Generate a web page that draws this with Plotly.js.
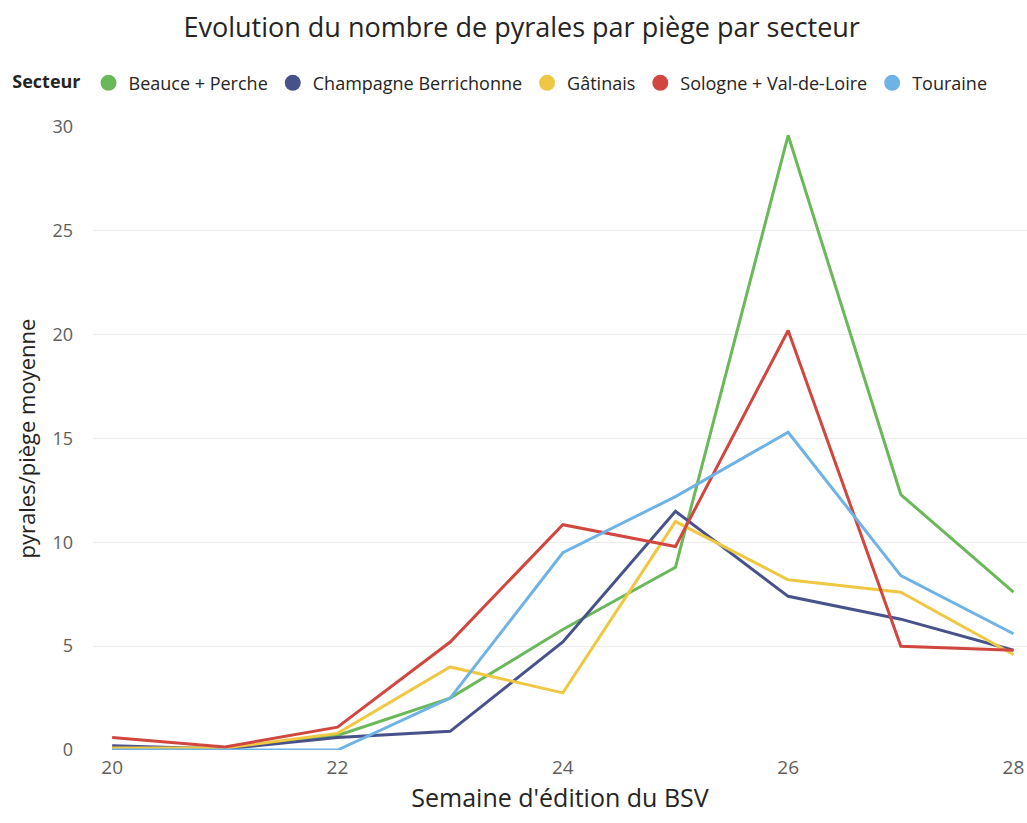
<!DOCTYPE html>
<html>
<head>
<meta charset="utf-8">
<script src="https://cdn.plot.ly/plotly-3.0.1.min.js"></script>
<style>html,body{margin:0;padding:0;background:#fff;}#chart{width:1027px;height:823px;}</style>
</head>
<body>
<div id="chart"></div>
<script>
const weeks = [20, 21, 22, 23, 24, 25, 26, 27, 28];
const sectors = ["Beauce + Perche", "Champagne Berrichonne", "Gâtinais", "Sologne + Val-de-Loire", "Touraine"];
const beauce = [0.05, 0.1, 0.7, 2.5, 5.8, 8.8, 29.6, 12.3, 7.6];
const champagne = [0.2, 0.05, 0.6, 0.9, 5.2, 11.5, 7.4, 6.3, 4.8];
const gatinais = [0.1, 0.1, 0.8, 4.0, 2.75, 11.0, 8.2, 7.6, 4.6];
const sologne = [0.6, 0.15, 1.1, 5.2, 10.85, 9.8, 20.2, 5.0, 4.8];
const touraine = [0.0, 0.0, 0.0, 2.5, 9.5, 12.2, 15.3, 8.4, 5.6];
const colors = ["#6bb85a", "#48528a", "#efc843", "#d1473f", "#6fb2e6"];
const seriesList = [beauce, champagne, gatinais, sologne, touraine];

const traces = [];
seriesList.forEach((s, i) => {
  traces.push({
    x: weeks, y: s, type: 'scatter', mode: 'lines', name: sectors[i],
    line: {color: colors[i], width: 3}, legendgroup: 'g' + i, showlegend: false,
    hovertemplate: '%{y}<extra>' + sectors[i] + '</extra>'
  });
});
seriesList.forEach((s, i) => {
  traces.push({
    x: [null], y: [null], type: 'scatter', mode: 'markers', name: sectors[i],
    marker: {color: colors[i], size: 17, symbol: 'circle'}, legendgroup: 'g' + i, showlegend: true
  });
});

const layout = {
  width: 1027, height: 823,
  margin: {l: 93, r: 0, t: 127, b: 73},
  paper_bgcolor: '#ffffff', plot_bgcolor: '#ffffff',
  font: {family: 'Open Sans, sans-serif', color: '#605e5c', size: 18},
  title: {text: 'Evolution du nombre de pyrales par piège par secteur', x: 0.508, xanchor: 'center', xref: 'container',
    y: 0.966, yanchor: 'middle', yref: 'container',
    font: {family: 'Open Sans, sans-serif', size: 27, color: '#252423'}},
  showlegend: true,
  legend: {orientation: 'h', xref: 'container', yref: 'container', x: 0.01, xanchor: 'left', y: 0.899, yanchor: 'middle',
    itemwidth: 30, title: {text: '<b>Secteur</b>', font: {size: 18, color: '#252423'}},
    font: {size: 18, color: '#252423'}, traceorder: 'normal', tracegroupgap: 0},
  xaxis: {range: [19.83, 28.12], tickvals: [20, 22, 24, 26, 28], showgrid: false, zeroline: false, showline: false,
    ticks: '', ticklabelstandoff: 4, tickfont: {size: 19, color: '#605e5c'},
    title: {text: "Semaine d'édition du BSV", font: {size: 25, color: '#252423'}, standoff: 8}},
  yaxis: {range: [0, 30], tickvals: [0, 5, 10, 15, 20, 25, 30], showgrid: true, gridcolor: '#ececec', gridwidth: 1,
    zeroline: false, showline: false, ticks: '', ticklabelstandoff: 19, tickfont: {size: 18, color: '#605e5c'},
    title: {text: 'pyrales/piège moyenne', font: {size: 22, color: '#252423'}, standoff: 10}}
};

Plotly.newPlot('chart', traces, layout, {displayModeBar: false, staticPlot: true});
</script>
</body>
</html>
